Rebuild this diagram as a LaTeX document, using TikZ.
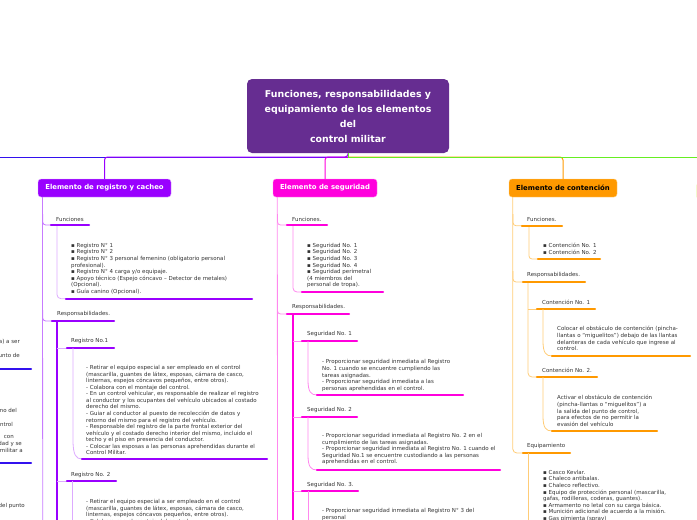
\documentclass[tikz,border=0pt]{standalone}
\usepackage{fontspec}
\setmainfont{DejaVu Sans}
\definecolor{ttl}{HTML}{662D91}
\definecolor{pur}{HTML}{9900FF}
\definecolor{purl}{HTML}{C77BFF}
\definecolor{purll}{HTML}{DDAAFF}
\definecolor{mag}{HTML}{FF00DD}
\definecolor{magl}{HTML}{FF88EE}
\definecolor{ora}{HTML}{FF9900}
\definecolor{oral}{HTML}{FFCC77}
\definecolor{blu}{HTML}{3311EE}
\definecolor{grn}{HTML}{66EE22}
\definecolor{ylw}{HTML}{DDEE77}
\definecolor{txtc}{HTML}{333333}
\begin{document}
\begin{tikzpicture}[x=1pt,y=-1pt,
  txt/.style={font=\fontsize{5.5}{6.55}\selectfont, text=txtc, inner sep=0pt, anchor=north west, align=left},
  lbl/.style={font=\fontsize{5.5}{6.55}\selectfont, text=txtc, inner sep=0pt, anchor=west},
  bar/.style={line width=2.2pt, line cap=round},
  thin/.style={line width=0.8pt},
  elem/.style={rounded corners=3pt, inner sep=0pt, minimum height=18pt, font=\fontsize{6.9}{8}\selectfont\bfseries, text=white},
]
\useasboundingbox (0,0) rectangle (697,520);

% ---------- title and elements ----------
\node[fill=ttl, rounded corners=5pt, minimum width=202pt, minimum height=74pt, inner sep=0pt,
      text=white, align=center, font=\fontsize{9.4}{15}\selectfont\bfseries] (title) at (348,116)
  {Funciones, responsabilidades y\\equipamiento de los elementos\\del\\control militar};
\node[elem, fill=pur, draw=purll, minimum width=133pt] (e1) at (104.5,188) {Elemento de registro y cacheo};
\node[elem, fill=mag, draw=magl, minimum width=104pt] (e2) at (325,188) {Elemento de seguridad};
\node[elem, fill=ora, draw=oral, text=black, minimum width=108pt] (e3) at (563,188) {Elemento de contención};
\node[elem, fill=ylw, minimum width=60pt, anchor=west] (e4) at (696.5,191) {};

\coordinate (hub) at (348,157);
\coordinate (offL) at (0,157);
\coordinate (offR) at (697,157);
\draw[blu, line width=1pt] (hub) -- (offL);
\draw[mag, line width=1pt, rounded corners=3pt] (hub) -| (e2.north);
\draw[pur, line width=1pt, rounded corners=3pt] (title.south) -- (hub) -| (e1.north);
\draw[ora, line width=1pt, rounded corners=3pt] (hub) -| (e3.north);
\draw[grn, line width=1pt] (title.south) -- (hub) -- (offR);

% ---------- left (cut) column ----------
\node[lbl, anchor=east] (l1) at (20,342) {a) a ser};
\node[lbl, anchor=east] (l2) at (20,355) {unto de};
\draw[blu, bar] (-5,369) -- (31,369);
\node[lbl, anchor=east] (l3) at (17,410) {mo del};
\node[lbl, anchor=east] (l4) at (13,424) {ntrol};
\node[lbl, anchor=east] (l5) at (14,437) {con};
\node[lbl, anchor=east] (l6) at (22,443.5) {dad y se};
\node[lbl, anchor=east] (l7) at (23,450) {militar a};
\draw[blu, bar] (-5,463) -- (31,463);
\node[lbl, anchor=east] (l8) at (25,506) {del punto};

% ---------- column 1 ----------
\draw[purl, thin] ([xshift=4.7pt]e1.south west) -- (42.7,520);
\node[lbl] (f1) at (56,219) {Funciones};
\draw[purl, thin, rounded corners=3pt] (42.7,214) |- (51,225);
\draw[purll, thin, rounded corners=4pt] (57,225) |- (66,298.7);
\draw[pur, bar] (51,225) -- (89,225);
\node[txt] (t1) at (71,243) {▪ Registro N° 1\\▪ Registro N° 2\\▪ Registro N° 3 personal femenino (obligatorio personal\\profesional).\\▪ Registro N° 4 carga y/o equipaje.\\▪ Apoyo técnico (Espejo cóncavo – Detector de metales)\\(Opcional).\\▪ Guía canino (Opcional).};
\draw[pur, bar] (66,298.7) -- (252,298.7);

\node[lbl] (r1) at (57,314) {Responsabilidades.};
\draw[purl, thin, rounded corners=3pt] (42.7,310) |- (52,321);
\draw[pur, line width=1.2pt] (57,321) -- (57,520);
\draw[pur, bar] (52,321) -- (114,321);

\node[lbl] (rg1) at (71,341) {Registro No.1};
\draw[purll, thin] (57,348) -- (67,348);
\draw[pur, bar] (67,348) -- (114,348);
\draw[purll, thin] (73,348) -- (73,440) .. controls (73,455) and (76,459) .. (82,459);
\node[txt] (t2) at (86,365.3) {- Retirar el equipo especial a ser empleado en el control\\(mascarilla, guantes de látex, esposas, cámara de casco,\\linternas, espejos cóncavos pequeños, entre otros).\\- Colabora con el montaje del control.\\- En un control vehicular, es responsable de realizar el registro\\al conductor y los ocupantes del vehículo ubicados al costado\\derecho del mismo.\\- Guiar al conductor al puesto de recolección de datos y\\retorno del mismo para el registro del vehículo.\\- Responsable del registro de la parte frontal exterior del\\vehículo y el costado derecho interior del mismo, incluido el\\techo y el piso en presencia del conductor.\\- Colocar las esposas a las personas aprehendidas durante el\\Control Militar.};
\draw[pur, bar] (82,459) -- (267,459);

\node[lbl] (rg2) at (71,475) {Registro No. 2};
\draw[purll, thin] (57,481) -- (67,481);
\draw[pur, bar] (67,481) -- (116,481);
\draw[purll, thin] (72.5,481) -- (72.5,520);
\node[txt] (t3) at (86,499.3) {- Retirar el equipo especial a ser empleado en el control\\(mascarilla, guantes de látex, esposas, cámara de casco,\\linternas, espejos cóncavos pequeños, entre otros).\\- Colabora con el montaje del control.};

% ---------- column 2 ----------
\draw[magl, thin] ([xshift=4.5pt]e2.south west) -- (277.5,520);
\node[lbl] (f2) at (292,219) {Funciones.};
\draw[magl, thin, rounded corners=3pt] (277.5,214) |- (287,225);
\draw[magl, thin, rounded corners=4pt] (293,225) |- (302,292);
\draw[mag, bar] (287,225) -- (327,225);
\node[txt] (t4) at (307,243) {▪ Seguridad No. 1\\▪ Seguridad No. 2\\▪ Seguridad No. 3\\▪ Seguridad No. 4\\▪ Seguridad perimetral\\(4 miembros del\\personal de tropa).};
\draw[mag, bar] (302,292) -- (383,292);

\node[lbl] (r2) at (292,307) {Responsabilidades.};
\draw[magl, thin, rounded corners=3pt] (277.5,303) |- (287,314);
\draw[mag, line width=1.2pt] (293,314) -- (293,520);
\draw[mag, bar] (287,314) -- (349,314);

\node[lbl] (s1) at (307,334) {Seguridad No. 1};
\draw[magl, thin] (293,341) -- (302,341);
\draw[mag, bar] (302,341) -- (357,341);
\draw[magl, thin] (308,341) -- (308,380) .. controls (308,392) and (311,395) .. (317,395);
\node[txt] (t5) at (322,359.6) {- Proporcionar seguridad inmediata al Registro\\No. 1 cuando se encuentre cumpliendo las\\tareas asignadas.\\- Proporcionar seguridad inmediata a las\\personas aprehendidas en el control.};
\draw[mag, bar] (317,395) -- (463,395);

\node[lbl] (s2) at (307,409.5) {Seguridad No. 2};
\draw[magl, thin] (293,417) -- (302,417);
\draw[mag, bar] (302,417) -- (357,417);
\draw[magl, thin] (308,417) -- (308,455) .. controls (308,467) and (311,470) .. (317,470);
\node[txt] (t6) at (322,433.3) {- Proporcionar seguridad inmediata al Registro No. 2 en el\\cumplimiento de las tareas asignadas.\\- Proporcionar seguridad inmediata al Registro No. 1 cuando el\\Seguridad No.1 se encuentre custodiando a las personas\\aprehendidas en el control.};
\draw[mag, bar] (317,470) -- (500,470);

\node[lbl] (s3) at (307,485) {Seguridad No. 3.};
\draw[magl, thin] (293,491) -- (302,491);
\draw[mag, bar] (302,491) -- (358,491);
\draw[magl, thin] (308,491) -- (308,520);
\node[txt] (t7) at (322,508.3) {- Proporcionar seguridad inmediata al Registro N° 3 del\\personal};

% ---------- column 3 ----------
\draw[oral, thin, rounded corners=4pt] ([xshift=4pt]e3.south west) |- (523,453);
\node[lbl] (f3) at (527,219) {Funciones.};
\draw[oral, thin, rounded corners=3pt] (513,214) |- (522,225.7);
\draw[oral, thin, rounded corners=3pt] (529,225.7) |- (538,259);
\draw[ora, bar] (522,225.7) -- (562,225.7);
\node[txt] (t8) at (543,243) {▪ Contención No. 1\\▪ Contención No. 2};
\draw[ora, bar] (538,259) -- (600,259);

\node[lbl] (r3) at (527,275) {Responsabilidades.};
\draw[oral, thin, rounded corners=3pt] (513,271) |- (523,282);
\draw[oral, thin, rounded corners=4pt] (528,282) |- (537,377);
\draw[ora, bar] (523,282) -- (585,282);

\node[lbl] (c1) at (542,302) {Contención No. 1};
\draw[oral, thin] (528,309) -- (537,309);
\draw[ora, bar] (537,309) -- (595,309);
\draw[oral, thin] (543,309) -- (543,341) .. controls (543,353) and (546,356) .. (552,356);
\node[txt] (t9) at (557,326.3) {Colocar el obstáculo de contención (pincha-\\llantas o “miguelitos”) debajo de las llantas\\delanteras de cada vehículo que ingrese al\\control.};
\draw[ora, bar] (552,356) -- (690,356);

\node[lbl] (c2) at (542,370.7) {Contención No. 2.};
\draw[ora, bar] (537,377) -- (597,377);
\draw[oral, thin] (543,377) -- (543,416) .. controls (543,428) and (546,431) .. (552,431);
\node[txt] (t10) at (557,395.3) {Activar el obstáculo de contención\\(pincha-llantas o “miguelitos”) a\\la salida del punto de control,\\para efectos de no permitir la\\evasión del vehículo};
\draw[ora, bar] (552,431) -- (657,431);

\node[lbl] (q3) at (527,446) {Equipamiento};
\draw[ora, bar] (523,453) -- (570,453);
\draw[oral, thin] (528,453) -- (528,520);
\node[txt] (t11) at (543,470) {▪ Casco Kevlar.\\▪ Chaleco antibalas.\\▪ Chaleco reflectivo.\\▪ Equipo de protección personal (mascarilla,\\gafas, rodilleras, coderas, guantes).\\▪ Armamento no letal con su carga básica.\\▪ Munición adicional de acuerdo a la misión.\\▪ Gas pimienta (spray)};
\end{tikzpicture}
\end{document}
